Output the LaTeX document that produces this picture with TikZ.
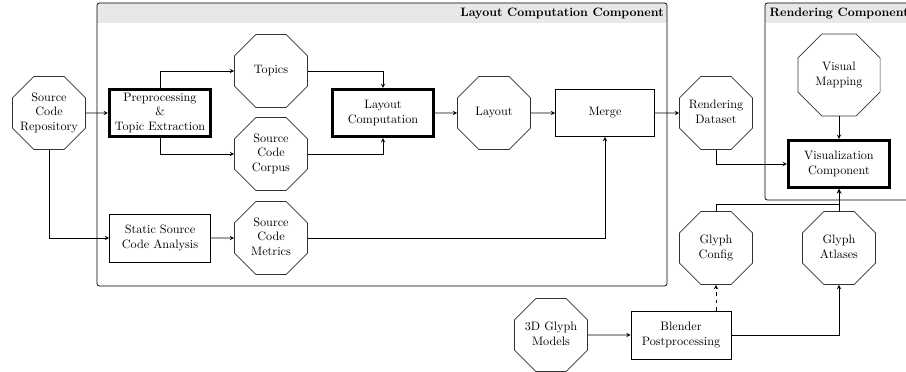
\documentclass[tikz,border=0pt]{standalone}
\usetikzlibrary{shapes.geometric}
\newcommand\pxunit{0.82pt}
\newcommand\octlabel[1]{\makebox[0pt]{\begin{tabular}{@{}c@{}}#1\end{tabular}}}
\tikzset{
  octa/.style={draw=black!80, semithick, regular polygon, regular polygon sides=8,
    minimum size=79*\pxunit, inner sep=0pt},
  proc/.style={draw, semithick, rectangle, minimum width=100*\pxunit, minimum height=48*\pxunit,
    inner sep=0pt, align=center},
  keyproc/.style={proc, line width=2.5pt, minimum width=101*\pxunit, minimum height=47*\pxunit},
  flow/.style={->, >=stealth, semithick},
  compbox/.style={draw, semithick, rounded corners=2pt},
  compband/.style={fill=black!9},
  comptitle/.style={anchor=base east, font=\bfseries, inner sep=0pt},
}

\begin{document}
\begin{tikzpicture}[x=\pxunit,y=-\pxunit]
	\useasboundingbox (0,0) rectangle (906,372);

	%%%%% COMPONENTS %%%%%
	\fill[compband] (97,23) [rounded corners=2pt] -- (97,3) -- (667,3) [sharp corners] -- (667,23) -- cycle;
	\draw[compbox] (97,3) rectangle (667,286);
	\node[comptitle] (lcctitle) at (664,17) {Layout Computation Component};

	\fill[compband] (765,23) [rounded corners=2pt] -- (765,3) -- (912,3) [sharp corners] -- (912,23) -- cycle;
	\draw[compbox] (765,3) rectangle (912,200);
	\node[comptitle] (rctitle) at (909,17) {Rendering Component};

	%%%%% NODES %%%%%
	\node[octa] (repo) at (49,113) {\octlabel{Source\\Code\\Repository}};
	\node[keyproc] (prep) at (160,113) {Preprocessing\\\&\\Topic Extraction};
	\node[octa] (topics) at (271,71) {\octlabel{Topics}};
	\node[octa] (corpus) at (271,154) {\octlabel{Source\\Code\\Corpus}};
	\node[keyproc] (laycomp) at (383,113) {Layout\\Computation};
	\node[octa] (layout) at (494,113) {\octlabel{Layout}};
	\node[proc, minimum width=99*\pxunit, minimum height=47*\pxunit] (merge) at (605,113) {Merge};
	\node[proc, minimum width=101*\pxunit] (static) at (160,238) {Static Source\\Code Analysis};
	\node[octa] (metrics) at (271,238) {\octlabel{Source\\Code\\Metrics}};

	\node[octa] (dataset) at (716,113) {\octlabel{Rendering\\Dataset}};
	\node[octa, minimum size=89*\pxunit] (mapping) at (839,75) {\octlabel{Visual\\Mapping}};
	\node[keyproc] (viscomp) at (839,164) {Visualization\\Component};

	\node[octa] (config) at (716,248) {\octlabel{Glyph\\Config}};
	\node[octa] (atlases) at (839,248) {\octlabel{Glyph\\Atlases}};
	\node[octa] (models) at (551,335) {\octlabel{3D Glyph\\Models}};
	\node[proc] (blender) at (681,335) {Blender\\Postprocessing};

	%%%%% CONNECTORS %%%%%
	\draw[flow] (repo) -- (prep);
	\draw[flow] (repo.south) |- (static);
	\draw[flow] (prep.north) |- (topics);
	\draw[flow] (prep.south) |- (corpus);
	\draw[flow] (topics) -| (laycomp.north);
	\draw[flow] (corpus) -| (laycomp.south);
	\draw[flow] (laycomp) -- (layout);
	\draw[flow] (layout) -- (merge);
	\draw[flow] (merge) -- (dataset);
	\draw[flow] (static) -- (metrics);
	\draw[flow] (metrics) -| (merge.south);

	\draw[flow] (dataset.south) |- (viscomp);
	\draw[flow] (mapping) -- (viscomp);
	\draw[flow] (config.north) -- ++(0,-7) -| (viscomp.south);
	\draw[flow] (atlases) -- (viscomp);

	\draw[flow] (models) -- (blender);
	\draw[flow, dashed] (blender.north -| config.south) -- (config.south);
	\draw[flow] (blender) -| (atlases);
\end{tikzpicture}
\end{document}
